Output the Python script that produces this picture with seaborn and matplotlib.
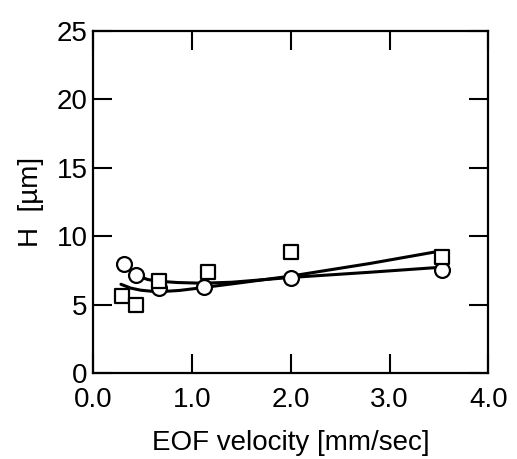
import pandas as pd
import matplotlib
matplotlib.use("Agg")
import matplotlib.pyplot as plt
import seaborn as sns

# =====================================================
# DATA
# =====================================================

# measured points
circle_x = [0.31, 0.43, 0.67, 1.12, 2.00, 3.53]
circle_h = [8.0, 7.17, 6.25, 6.30, 6.98, 7.58]

square_x = [0.29, 0.43, 0.67, 1.16, 2.00, 3.53]
square_h = [5.65, 5.0, 6.74, 7.40, 8.84, 8.48]

# fitted curves
circle_fit_x = [0.31, 0.43, 0.55, 0.67, 0.85, 1.10, 1.40, 2.00, 2.80, 3.53]
circle_fit_h = [8.0, 7.17, 6.85, 6.72, 6.63, 6.58, 6.65, 7.00, 7.38, 7.75]

square_fit_x = [0.28, 0.38, 0.48, 0.65, 0.87, 1.10, 1.50, 2.00, 2.80, 3.53]
square_fit_h = [6.50, 6.22, 6.07, 5.95, 6.05, 6.25, 6.62, 7.10, 8.02, 8.95]

x_ticks = [0.0, 1.0, 2.0, 3.0, 4.0]
y_ticks = [0, 5, 10, 15, 20, 25]

# =====================================================
# STYLE
# =====================================================

sns.set_style("ticks", {
    "axes.edgecolor": "black",
    "xtick.color": "black",
    "ytick.color": "black",
    "text.color": "black",
    "axes.labelcolor": "black",
})
plt.rcParams["font.family"] = ["Liberation Sans", "DejaVu Sans"]

fig = plt.figure(figsize=(5.17, 4.59), dpi=100)
ax = fig.add_axes([0.1805, 0.1867, 0.764, 0.7458])

# =====================================================
# PLOT
# =====================================================

fits = pd.concat([
    pd.DataFrame({"x": circle_fit_x, "H": circle_fit_h, "s": "circle"}),
    pd.DataFrame({"x": square_fit_x, "H": square_fit_h, "s": "square"}),
])

sns.lineplot(
    data=fits,
    x="x",
    y="H",
    units="s",
    estimator=None,
    color="black",
    linewidth=2.2,
    ax=ax
)

sns.scatterplot(
    x=circle_x,
    y=circle_h,
    marker="o",
    s=115,
    facecolor="white",
    edgecolor="black",
    linewidth=1.6,
    zorder=3,
    ax=ax
)

sns.scatterplot(
    x=square_x,
    y=square_h,
    marker="s",
    s=105,
    facecolor="white",
    edgecolor="black",
    linewidth=1.6,
    zorder=3,
    ax=ax
)

ax.set_xlim(0, 4)
ax.set_ylim(0, 25)
ax.set_xticks(x_ticks)
ax.set_xticklabels([f"{v:.1f}" for v in x_ticks])
ax.set_yticks(y_ticks)

ax.tick_params(
    direction="in",
    length=14,
    width=1.5,
    labelsize=20,
    labelcolor="black",
    top=True,
    right=True,
    pad=4
)
ax.tick_params(axis="x", pad=10)

for sp in ax.spines.values():
    sp.set_linewidth(1.6)
    sp.set_visible(True)

ax.set_xlabel("EOF velocity [mm/sec]", fontsize=20, labelpad=12)
ax.set_ylabel("H  [\u00b5m]", fontsize=20, labelpad=9)

fig.savefig("out.png", dpi=100)
